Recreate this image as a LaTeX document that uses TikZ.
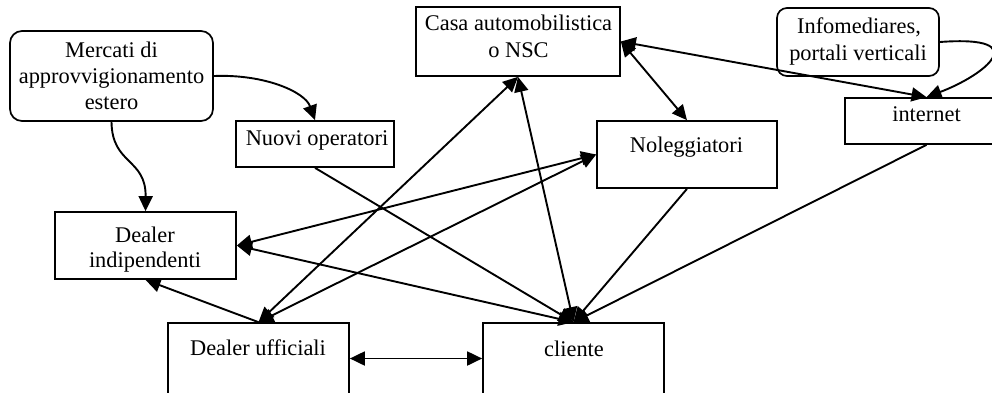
\documentclass[tikz,border=0pt]{standalone}
\usepackage{fontspec}
\setmainfont{Liberation Serif}
\usetikzlibrary{arrows.meta}

\tikzset{
  box/.style={draw, line width=1.7pt, inner sep=0pt, rectangle},
  rbox/.style={box, rounded corners=12pt},
  txt/.style={inner sep=0pt, anchor=base, font=\fontsize{22.4}{27}\selectfont},
  conn/.style={line width=1.9pt},
  arr/.style={conn, -{Triangle[length=15pt,width=14pt]}},
  darr/.style={conn, {Triangle[length=15pt,width=14pt]}-{Triangle[length=15pt,width=14pt]}}
}

\begin{document}
\begin{tikzpicture}[x=1pt, y=-1pt]
\useasboundingbox (0,0) rectangle (992,392);

% boxes
\node[rbox, minimum width=203pt, minimum height=90pt] (merc) at (111.5,76) {};
\node[box, minimum width=158pt, minimum height=46pt] (nuovi) at (315,144) {};
\node[box, minimum width=204pt, minimum height=69pt] (casa) at (518,41.5) {};
\node[rbox, rounded corners=10pt, minimum width=162pt, minimum height=68pt] (info) at (858,42) {};
\node[box, minimum width=163pt, minimum height=46pt] (internet) at (926.5,121) {};
\node[box, minimum width=180pt, minimum height=67pt] (nol) at (687,154.5) {};
\node[box, minimum width=181pt, minimum height=67pt] (dind) at (145.5,245.5) {};
\node[box, minimum width=181pt, minimum height=71pt] (duff) at (258.5,358.5) {};
\node[box, minimum width=181pt, minimum height=71pt] (cliente) at (573.5,358.5) {};

% labels
\node[txt] (mercA) at (111.5,57) {Mercati di};
\node[txt] (mercB) at (111.5,83) {approvvigionamento};
\node[txt] (mercC) at (111.5,109) {estero};
\node[txt] (nuoviA) at (317,145) {Nuovi operatori};
\node[txt] (casaA) at (518.5,30) {Casa automobilistica};
\node[txt] (casaB) at (518.5,57) {o NSC};
\node[txt] (infoA) at (859,33) {Infomediares,};
\node[txt] (infoB) at (858,60) {portali verticali};
\node[txt] (internetA) at (926.5,121) {internet};
\node[txt] (nolA) at (686.5,152) {Noleggiatori};
\node[txt] (dindA) at (145,242) {Dealer};
\node[txt] (dindB) at (145,267) {indipendenti};
\node[txt] (duffA) at (258,355) {Dealer ufficiali};
\node[txt] (clienteA) at (574,356) {cliente};

% curved links
\draw[arr] (merc.east) .. controls (265,74) and (305,92) .. (nuovi.north);
\draw[arr] (merc.south) .. controls (112,165) and (146,158) .. (dind.north);
\draw[arr] (info.east) .. controls (1035,35) and (985,75) .. (internet.north);

% links into cliente
\draw[arr] (nuovi.south) -- (cliente.north);
\draw[darr] (dind.east) -- (cliente.north);
\draw[darr] (casa.south) -- (cliente.north);
\draw[arr] (nol.south) -- (cliente.north);
\draw[arr] (internet.south) -- (cliente.north);

% other links
\draw[darr] (nol.west) -- (dind.east);
\draw[darr] (nol.west) -- (duff.north);
\draw[darr] (casa.south) -- (duff.north);
\draw[darr] (casa.east) -- (nol.north);
\draw[darr] (casa.east) -- (internet.north);
\draw[arr] (duff.north) -- (dind.south);
\draw[darr] (duff.east) -- (cliente.west);
\end{tikzpicture}
\end{document}
